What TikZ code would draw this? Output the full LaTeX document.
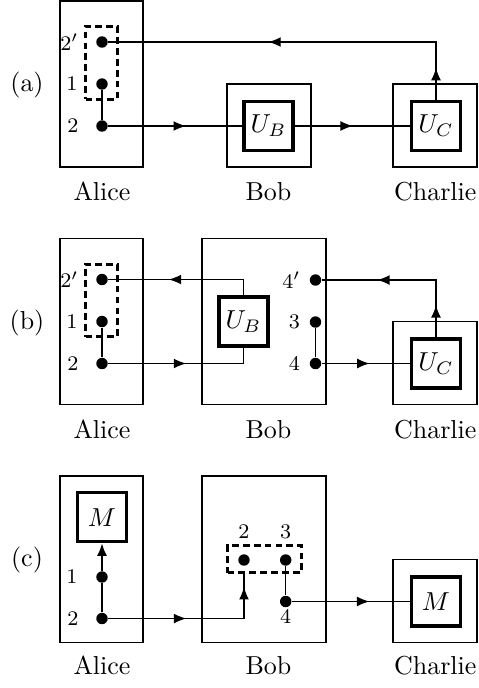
\documentclass[tikz,border=0pt]{standalone}
\usetikzlibrary{arrows.meta,decorations.markings}
\begin{document}
\begin{tikzpicture}[x=0.385pt,y=-0.385pt,
  outerbox/.style={draw,line width=0.45pt},
  wire/.style={draw,line width=0.5pt},
  gate/.style={draw,line width=1.2pt,minimum size=18.9pt,inner sep=0pt,fill=white},
  bullet/.style={circle,fill,inner sep=0pt,minimum size=4.4pt},
  grp/.style={draw,line width=1.15pt,dash pattern=on 2.6pt off 1.6pt,inner sep=0pt},
  num/.style={font=\footnotesize,inner sep=0pt},
  who/.style={anchor=base},
  endarrow/.style={-{Latex[length=4.8pt,width=3.8pt]}},
  arrowat/.style={postaction={decorate},decoration={markings,mark=at position #1 with {\arrow{Latex[length=4.8pt,width=3.8pt]}}}},
  arrowsat/.style 2 args={postaction={decorate},decoration={markings,mark=at position #1 with {\arrow{Latex[length=4.8pt,width=3.8pt]}},mark=at position #2 with {\arrow{Latex[length=4.8pt,width=3.8pt]}}}},
]
\useasboundingbox (0,0) rectangle (479,688);

% ---------------- (a) ----------------
\node (la) at (27,85) {(a)};
\draw[outerbox] (60,1) rectangle (143,167);
\draw[outerbox] (227,84) rectangle (311,167);
\draw[outerbox] (393,84) rectangle (477,167);
\node[grp,minimum width=12.3pt,minimum height=28pt] (ag) at (101.5,62.8) {};
\node[bullet] (a2p) at (102,42) {};
\node[bullet] (a1) at (102,84) {};
\node[bullet] (a2) at (102,126) {};
\node[num,anchor=east] (ta2p) at (79,42) {$2'$};
\node[num,anchor=east] (ta1) at (78,84) {1};
\node[num,anchor=east] (ta2) at (79,126) {2};
\node[gate] (aUB) at (268.5,126) {$U_B$};
\node[gate] (aUC) at (436,126) {$U_C$};
\node[who] (aA) at (102,200.5) {Alice};
\node[who] (aB) at (268.5,200.5) {Bob};
\node[who] (aC) at (435.3,200.5) {Charlie};
\draw[wire] (a1) -- (a2);
\draw[wire,arrowat=0.58] (a2) -- (aUB);
\draw[wire,arrowat=0.506] (aUB) -- (aUC);
\draw[wire,arrowsat={0.083}{0.585}] (aUC) |- (a2p);

% ---------------- (b) ----------------
\node (lb) at (27,323) {(b)};
\draw[outerbox] (60,238.5) rectangle (143,404.5);
\draw[outerbox] (202,238.5) rectangle (326,404.5);
\draw[outerbox] (393,321.5) rectangle (477,404.5);
\node[grp,minimum width=12.3pt,minimum height=28pt] (bg) at (101.5,300.5) {};
\node[bullet] (b2p) at (102,279.5) {};
\node[bullet] (b1) at (102,321.5) {};
\node[bullet] (b2) at (102,363.5) {};
\node[num,anchor=east] (tb2p) at (79,279.5) {$2'$};
\node[num,anchor=east] (tb1) at (78,321.5) {1};
\node[num,anchor=east] (tb2) at (79,363.5) {2};
\node[gate] (bUB) at (243.5,321.5) {$U_B$};
\node[bullet] (b4p) at (315.5,280) {};
\node[bullet] (b3) at (315.5,322) {};
\node[bullet] (b4) at (315.5,363.5) {};
\node[num,anchor=east] (tb4p) at (301,280) {$4'$};
\node[num,anchor=east] (tb3) at (300.5,322) {3};
\node[num,anchor=east] (tb4) at (300.5,363.5) {4};
\node[gate] (bUC) at (436,363.5) {$U_C$};
\node[who] (bA) at (102,438) {Alice};
\node[who] (bB) at (268.5,438) {Bob};
\node[who] (bC) at (435.3,438) {Charlie};
\draw[wire] (b1) -- (b2);
\draw[wire,arrowat=0.516] (b2) -| (bUB);
\draw[wire,arrowat=0.60] (bUB) |- (b2p);
\draw[wire] (b3) -- (b4);
\draw[wire,arrowat=0.543] (b4) -- (bUC);
\draw[wire,arrowsat={0.188}{0.677}] (bUC) |- (b4p);

% ---------------- (c) ----------------
\node (lc) at (27,560) {(c)};
\draw[outerbox] (60,476) rectangle (143,642.5);
\draw[outerbox] (202,476) rectangle (326,642.5);
\draw[outerbox] (393,559.5) rectangle (477,642.5);
\node[gate] (cM) at (102,517.3) {$M$};
\node[bullet] (c1) at (102,577) {};
\node[bullet] (c2) at (102,618.5) {};
\node[num,anchor=east] (tc1) at (78,577) {1};
\node[num,anchor=east] (tc2) at (79,618.5) {2};
\node[grp,minimum width=28.4pt,minimum height=10.5pt] (cg) at (264.4,559.2) {};
\node[bullet] (cb2) at (244,560) {};
\node[bullet] (cb3) at (285.7,560) {};
\node[bullet] (cb4) at (285.7,601.5) {};
\node[num] (tcb2) at (244,531.7) {2};
\node[num] (tcb3) at (285.7,531.7) {3};
\node[num] (tcb4) at (285.7,616.7) {4};
\node[gate] (cM2) at (436,601.5) {$M$};
\node[who] (cA) at (102,674.5) {Alice};
\node[who] (cB) at (268.5,674.5) {Bob};
\node[who] (cC) at (435.3,674.5) {Charlie};
\draw[wire] (c2) -- (c1);
\draw[wire,endarrow] (c1) -- (cM);
\draw[wire,arrowsat={0.434}{0.93}] (c2) -| (cg.south -| cb2);
\draw[wire] (cb3) -- (cb4);
\draw[wire,arrowat=0.657] (cb4) -- (cM2);
\end{tikzpicture}
\end{document}
